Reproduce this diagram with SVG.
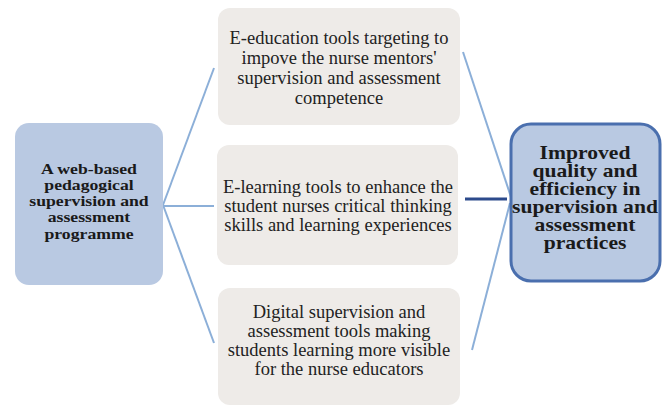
<svg xmlns="http://www.w3.org/2000/svg" width="664" height="408" viewBox="0 0 664 408">
<style>
.grey{fill:#eeebe8;stroke:none}
.blue{fill:#b9c9e2}
.t{font-family:"Liberation Serif","Times New Roman",serif;font-size:18.5px;fill:#222;text-anchor:middle}
.b{font-family:"Liberation Serif","Times New Roman",serif;font-weight:bold;fill:#1a1a1a;text-anchor:middle}
.c{stroke:#8cafd8;stroke-width:2;fill:none}
</style>
<rect width="664" height="408" fill="#ffffff"/>
<g id="connectors">
<line class="c" x1="163" y1="205" x2="214" y2="68"/>
<line class="c" x1="163" y1="205" x2="214" y2="343"/>
<line class="c" x1="163" y1="206" x2="214" y2="206"/>
<line class="c" x1="463" y1="52" x2="511" y2="197"/>
<line class="c" x1="472" y1="350" x2="510" y2="203"/>
<line x1="465" y1="199" x2="507" y2="199" stroke="#2c4a8c" stroke-width="3"/>
</g>
<g id="left">
<rect class="blue" x="15" y="123" width="148" height="162" rx="14"/>
<text class="b" font-size="15" transform="translate(89,0) scale(1.18,1)"><tspan x="0" y="174">A web-based</tspan><tspan x="0" y="190">pedagogical</tspan><tspan x="0" y="206">supervision and</tspan><tspan x="0" y="222">assessment</tspan><tspan x="0" y="239">programme</tspan></text>
</g>
<g id="top">
<rect class="grey" x="218" y="8" width="242" height="117" rx="12"/>
<text class="t"><tspan x="339" y="44">E-education tools targeting to</tspan><tspan x="339" y="64">impove the nurse mentors'</tspan><tspan x="339" y="84">supervision and assessment</tspan><tspan x="339" y="104">competence</tspan></text>
</g>
<g id="middle">
<rect class="grey" x="217" y="145" width="241" height="120" rx="12"/>
<text class="t"><tspan x="338" y="193">E-learning tools to enhance the</tspan><tspan x="338" y="212">student nurses critical thinking</tspan><tspan x="338" y="231">skills and learning experiences</tspan></text>
</g>
<g id="bottom">
<rect class="grey" x="218" y="288" width="242" height="117" rx="12"/>
<text class="t"><tspan x="339" y="318">Digital supervision and</tspan><tspan x="339" y="337">assessment tools making</tspan><tspan x="339" y="356">students learning more visible</tspan><tspan x="339" y="375">for the nurse educators</tspan></text>
</g>
<g id="right">
<rect class="blue" x="511" y="124" width="149" height="157" rx="20" stroke="#4a6fae" stroke-width="3"/>
<text class="b" font-size="18" transform="translate(585,0) scale(1.2,1)"><tspan x="0" y="159">Improved</tspan><tspan x="0" y="177">quality and</tspan><tspan x="0" y="195">efficiency in</tspan><tspan x="0" y="213">supervision and</tspan><tspan x="0" y="231">assessment</tspan><tspan x="0" y="249">practices</tspan></text>
</g>
</svg>
